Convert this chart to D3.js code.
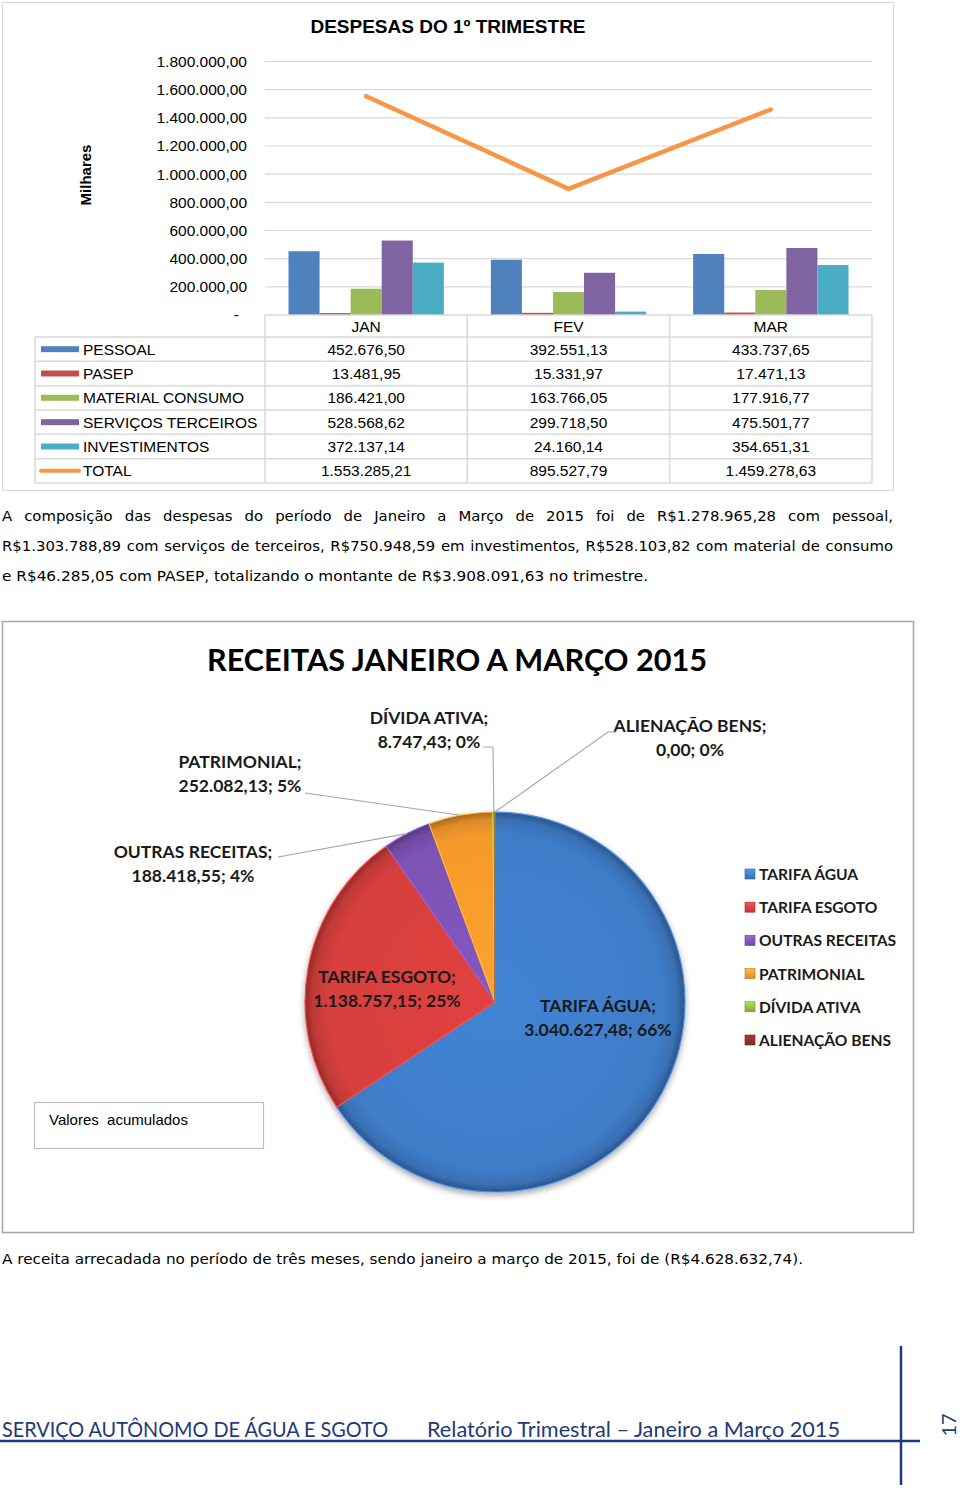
<!DOCTYPE html>
<html><head><meta charset="utf-8">
<script src="https://cdn.jsdelivr.net/npm/d3@7"></script>
<style>body{margin:0;background:#fff}svg{display:block}</style>
</head><body>
<svg id="c" width="960" height="1488"></svg>
<script>
// ---------- DATA ----------
const months = ["JAN", "FEV", "MAR"];
const seriesNames = ["PESSOAL", "PASEP", "MATERIAL CONSUMO", "SERVIÇOS TERCEIROS", "INVESTIMENTOS"];
const pessoal = [452676.50, 392551.13, 433737.65];
const pasep = [13481.95, 15331.97, 17471.13];
const materialConsumo = [186421.00, 163766.05, 177916.77];
const servicosTerceiros = [528568.62, 299718.50, 475501.77];
const investimentos = [372137.14, 24160.14, 354651.31];
const total = [1553285.21, 895527.79, 1459278.63];
const yTicks = [0, 200000, 400000, 600000, 800000, 1000000, 1200000, 1400000, 1600000, 1800000];
const seriesColors = ["#4f81bd", "#c0504d", "#9bbb59", "#8064a2", "#4bacc6"];
const totalColor = "#f79646";

const receitaNames = ["TARIFA ÁGUA", "TARIFA ESGOTO", "OUTRAS RECEITAS", "PATRIMONIAL", "DÍVIDA ATIVA", "ALIENAÇÃO BENS"];
const receitaValues = [3040627.48, 1138757.15, 188418.55, 252082.13, 8747.43, 0.00];
const receitaColors = ["#3f7dc9", "#d63f3d", "#7d52b5", "#f59a2c", "#8dbb45", "#8c2f2d"];

const para1 = [
  "A composição das despesas do período de Janeiro a Março de 2015 foi de R$1.278.965,28 com pessoal,",
  "R$1.303.788,89 com serviços de terceiros, R$750.948,59 em investimentos, R$528.103,82 com material de consumo",
  "e R$46.285,05 com PASEP, totalizando o montante de R$3.908.091,63 no trimestre."
];
const para2 = "A receita arrecadada no período de três meses, sendo janeiro a março de 2015, foi de (R$4.628.632,74).";

// ---------- SETUP ----------
const svg = d3.select("#c");
const br = d3.formatLocale({decimal: ",", thousands: ".", grouping: [3], currency: ["R$", ""]});
const fmt = br.format(",.2f");
const defs = svg.append("defs");

// ================= BAR CHART =================
svg.append("rect").attr("x", 2.5).attr("y", 2.5).attr("width", 891).attr("height", 488)
  .attr("fill", "#fff").attr("stroke", "#d9d9d9");

svg.append("text").attr("x", 448).attr("y", 33).attr("text-anchor", "middle")
  .attr("font-family", "Liberation Sans, Arial").attr("font-weight", "bold").attr("font-size", 19)
  .text("DESPESAS DO 1º TRIMESTRE");

svg.append("text").attr("transform", "translate(91,175) rotate(-90)").attr("text-anchor", "middle")
  .attr("font-family", "Liberation Sans, Arial").attr("font-weight", "bold").attr("font-size", 15)
  .text("Milhares");

const x0 = d3.scaleBand().domain(months).range([265, 872]);
const y = d3.scaleLinear().domain([0, 1800000]).range([315, 61.5]);
const x1 = d3.scaleBand().domain(seriesNames).range([23.5, x0.bandwidth() - 23.5]);

// gridlines
svg.append("g").selectAll("line").data(yTicks.slice(1)).join("line")
  .attr("x1", 265).attr("x2", 872).attr("y1", d => y(d)).attr("y2", d => y(d))
  .attr("stroke", "#d9d9d9").attr("stroke-width", 1.2);

const tf = {family: "Liberation Sans, Arial", size: 15.5};

// y axis labels
const yAxis = d3.axisLeft(y).tickValues(yTicks).tickSize(0).tickPadding(0)
  .tickFormat(d => d === 0 ? "-" : fmt(d));
const yg = svg.append("g").attr("transform", "translate(247,0)").call(yAxis);
yg.select(".domain").remove();
yg.selectAll("text").attr("font-family", tf.family).attr("font-size", tf.size).attr("fill", "#000");
yg.selectAll(".tick").filter(d => d === 0).select("text").attr("dx", -8);

// bars
const seriesData = [pessoal, pasep, materialConsumo, servicosTerceiros, investimentos];
const barsG = svg.append("g");
seriesNames.forEach((name, si) => {
  barsG.append("g").selectAll("rect").data(months).join("rect")
    .attr("x", (m) => x0(m) + x1(name))
    .attr("width", x1.bandwidth())
    .attr("y", (m, i) => y(seriesData[si][i]))
    .attr("height", (m, i) => y(0) - y(seriesData[si][i]))
    .attr("fill", seriesColors[si]);
});

// total line
const line = d3.line().x((d, i) => x0(months[i]) + x0.bandwidth() / 2).y(d => y(d));
svg.append("path").datum(total).attr("d", line).attr("fill", "none")
  .attr("stroke", totalColor).attr("stroke-width", 4.5).attr("stroke-linecap", "round").attr("stroke-linejoin", "round");

// data table
const rowTop = 337, rowH = 24.33;
const tableG = svg.append("g");
const gridC = "#d9d9d9";
tableG.append("line").attr("x1", 265).attr("x2", 872).attr("y1", 315).attr("y2", 315).attr("stroke", gridC).attr("stroke-width", 1.5);
const nRows = seriesNames.length + 1;
for (let r = 0; r <= nRows; r++) {
  tableG.append("line").attr("x1", 35).attr("x2", 872)
    .attr("y1", rowTop + r * rowH).attr("y2", rowTop + r * rowH).attr("stroke", gridC).attr("stroke-width", 1.5);
}
tableG.append("line").attr("x1", 35).attr("x2", 35).attr("y1", rowTop).attr("y2", rowTop + nRows * rowH).attr("stroke", gridC).attr("stroke-width", 1.5);
[265, 467.3, 669.7, 872].forEach(xx => {
  tableG.append("line").attr("x1", xx).attr("x2", xx).attr("y1", 315).attr("y2", rowTop + nRows * rowH).attr("stroke", gridC).attr("stroke-width", 1.5);
});
tableG.selectAll("text.hdr").data(months).join("text").attr("class", "hdr")
  .attr("x", m => x0(m) + x0.bandwidth() / 2).attr("y", 332).attr("text-anchor", "middle")
  .attr("font-family", tf.family).attr("font-size", tf.size).text(m => m);
const rowNames = seriesNames.concat(["TOTAL"]);
const rowData = seriesData.concat([total]);
rowNames.forEach((name, r) => {
  const cy = rowTop + r * rowH + rowH / 2;
  if (r < seriesNames.length) {
    tableG.append("rect").attr("x", 41).attr("y", cy - 3).attr("width", 38).attr("height", 6).attr("fill", seriesColors[r]);
  } else {
    tableG.append("line").attr("x1", 41).attr("x2", 79).attr("y1", cy).attr("y2", cy)
      .attr("stroke", totalColor).attr("stroke-width", 4).attr("stroke-linecap", "round");
  }
  tableG.append("text").attr("x", 83).attr("y", cy + 5.5).attr("font-family", tf.family).attr("font-size", tf.size).text(name);
  months.forEach((m, i) => {
    tableG.append("text").attr("x", x0(m) + x0.bandwidth() / 2).attr("y", cy + 5.5).attr("text-anchor", "middle")
      .attr("font-family", tf.family).attr("font-size", tf.size).text(fmt(rowData[r][i]));
  });
});

// ================= PARAGRAPHS =================
const pFont = "DejaVu Sans, Verdana, sans-serif";
function justifyLine(t, target) {
  const node = t.node();
  const w = node.getComputedTextLength();
  const spaces = (t.text().match(/ /g) || []).length;
  if (spaces > 0) t.attr("word-spacing", (target - w) / spaces);
}
let pSize = 15;
const probe = svg.append("text").attr("font-family", pFont).attr("font-size", pSize).text(para1[1]);
const w2 = probe.node().getComputedTextLength();
probe.remove();
if (w2 > 880) pSize = pSize * 880 / w2;
const pBase = [521, 551, 581];
para1.forEach((s, i) => {
  const t = svg.append("text").attr("x", 2).attr("y", pBase[i]).attr("font-family", pFont)
    .attr("font-size", pSize).attr("fill", "#000").text(s);
  if (i < 2) justifyLine(t, 891);
  else t.attr("textLength", 646).attr("lengthAdjust", "spacingAndGlyphs");
});

// ================= PIE CHART =================
svg.append("rect").attr("x", 2.5).attr("y", 621.5).attr("width", 911).attr("height", 611)
  .attr("fill", "#fff").attr("stroke", "#a6a6a6").attr("stroke-width", 1.5);

svg.append("text").attr("x", 207).attr("y", 671)
  .attr("font-family", "Lato, Open Sans, sans-serif").attr("font-weight", "bold").attr("font-size", 31)
  .attr("textLength", 500).attr("lengthAdjust", "spacingAndGlyphs")
  .attr("fill", "#000").text("RECEITAS JANEIRO A MARÇO 2015");

const cx = 495, cy = 1002, R = 190;
const pie = d3.pie().sort(null).value(d => d)(receitaValues);
const arc = d3.arc().innerRadius(0).outerRadius(R);

const f = defs.append("filter").attr("id", "shadow").attr("x", "-20%").attr("y", "-20%").attr("width", "140%").attr("height", "140%");
f.append("feGaussianBlur").attr("in", "SourceAlpha").attr("stdDeviation", 3);
f.append("feOffset").attr("dx", 0).attr("dy", 3).attr("result", "ob");
f.append("feComponentTransfer").append("feFuncA").attr("type", "linear").attr("slope", 0.35);
const fm = f.append("feMerge"); fm.append("feMergeNode"); fm.append("feMergeNode").attr("in", "SourceGraphic");

receitaColors.forEach((c, i) => {
  const g = defs.append("radialGradient").attr("id", "rg" + i).attr("gradientUnits", "userSpaceOnUse")
    .attr("cx", 0).attr("cy", 0).attr("r", R);
  const base = d3.color(c);
  g.append("stop").attr("offset", "0").attr("stop-color", base.brighter(0.15));
  g.append("stop").attr("offset", "0.88").attr("stop-color", base.toString());
  g.append("stop").attr("offset", "0.96").attr("stop-color", base.darker(0.3));
  g.append("stop").attr("offset", "1").attr("stop-color", base.darker(1.1));
});

const pieG = svg.append("g").attr("transform", `translate(${cx},${cy})`).attr("filter", "url(#shadow)");
pieG.selectAll("path").data(pie).join("path")
  .attr("d", arc).attr("fill", (d, i) => `url(#rg${i})`)
  .attr("stroke", (d, i) => d3.color(receitaColors[i]).brighter(0.5)).attr("stroke-width", 1.2)
  .attr("stroke-linejoin", "round");

// labels
const totalRec = d3.sum(receitaValues);
const lblFont = "Lato, Open Sans, sans-serif";
const labelPos = [
  {x: 598, y: 1012}, {x: 387, y: 983}, {x: 193, y: 858}, {x: 240, y: 768}, {x: 429, y: 724}, {x: 690, y: 732}
];
const labelAnchors = [null, null, [[278, 857]], [[305, 793]], [[483, 747], [493, 747]], [[616, 732], [608, 732]]];
pie.forEach((d, i) => {
  const pct = Math.round(receitaValues[i] / totalRec * 100);
  const t = svg.append("text").attr("text-anchor", "middle").attr("font-family", lblFont)
    .attr("font-weight", "bold").attr("font-size", 17.5).attr("fill", "#1a1a1a");
  t.append("tspan").attr("x", labelPos[i].x).attr("y", labelPos[i].y).text(receitaNames[i] + ";");
  t.append("tspan").attr("x", labelPos[i].x).attr("y", labelPos[i].y + 24).text(fmt(receitaValues[i]) + "; " + pct + "%");
  if (labelAnchors[i]) {
    const a = (d.startAngle + d.endAngle) / 2;
    const edge = [cx + R * Math.sin(a), cy - R * Math.cos(a)];
    svg.append("path").datum(labelAnchors[i].concat([edge]))
      .attr("d", d3.line()).attr("fill", "none").attr("stroke", "#a6a6a6").attr("stroke-width", 1.1);
  }
});

// legend
const legG = svg.append("g");
receitaNames.forEach((n, i) => {
  const ly = 874 + i * 33.2;
  const lg = defs.append("linearGradient").attr("id", "lg" + i).attr("x1", 0).attr("y1", 0).attr("x2", 0).attr("y2", 1);
  lg.append("stop").attr("offset", 0).attr("stop-color", d3.color(receitaColors[i]).brighter(0.6));
  lg.append("stop").attr("offset", 1).attr("stop-color", d3.color(receitaColors[i]).darker(0.3));
  legG.append("rect").attr("x", 745).attr("y", ly - 5).attr("width", 10).attr("height", 10)
    .attr("fill", `url(#lg${i})`).attr("stroke", d3.color(receitaColors[i]).darker(0.8)).attr("stroke-width", 0.6);
  legG.append("text").attr("x", 759).attr("y", ly + 6).attr("font-family", lblFont).attr("font-weight", "bold")
    .attr("font-size", 15.6).attr("fill", "#1a1a1a").text(n);
});

// Valores acumulados box
svg.append("rect").attr("x", 34.5).attr("y", 1102.5).attr("width", 229).attr("height", 46)
  .attr("fill", "#fff").attr("stroke", "#bfbfbf").attr("stroke-width", 1.2);
svg.append("text").attr("x", 49).attr("y", 1125).attr("font-family", "Liberation Sans, Arial").attr("font-size", 15)
  .style("white-space", "pre").text("Valores  acumulados");

// bottom paragraph
svg.append("text").attr("x", 2).attr("y", 1264).attr("font-family", pFont).attr("font-size", pSize)
  .attr("textLength", 801).attr("lengthAdjust", "spacingAndGlyphs").text(para2);

// ================= FOOTER =================
const navy = "#1f3a7a";
svg.append("text").attr("x", 2).attr("y", 1437).attr("font-family", "Lato, Open Sans, sans-serif")
  .attr("font-size", 21).attr("fill", navy).attr("textLength", 386).attr("lengthAdjust", "spacingAndGlyphs")
  .text("SERVIÇO AUTÔNOMO DE ÁGUA E SGOTO");
svg.append("text").attr("x", 427).attr("y", 1437).attr("font-family", "Lato, Open Sans, sans-serif")
  .attr("font-size", 21).attr("fill", navy).attr("textLength", 413).attr("lengthAdjust", "spacingAndGlyphs")
  .text("Relatório Trimestral – Janeiro a Março 2015");
svg.append("line").attr("x1", 0).attr("x2", 920).attr("y1", 1441).attr("y2", 1441).attr("stroke", navy).attr("stroke-width", 2.5);
svg.append("line").attr("x1", 901).attr("x2", 901).attr("y1", 1346).attr("y2", 1485).attr("stroke", navy).attr("stroke-width", 2.5);
svg.append("text").attr("transform", "translate(956,1425) rotate(-90)").attr("text-anchor", "middle")
  .attr("font-family", "Lato, Open Sans, sans-serif").attr("font-size", 20).attr("fill", navy).text("17");
</script>
</body></html>
